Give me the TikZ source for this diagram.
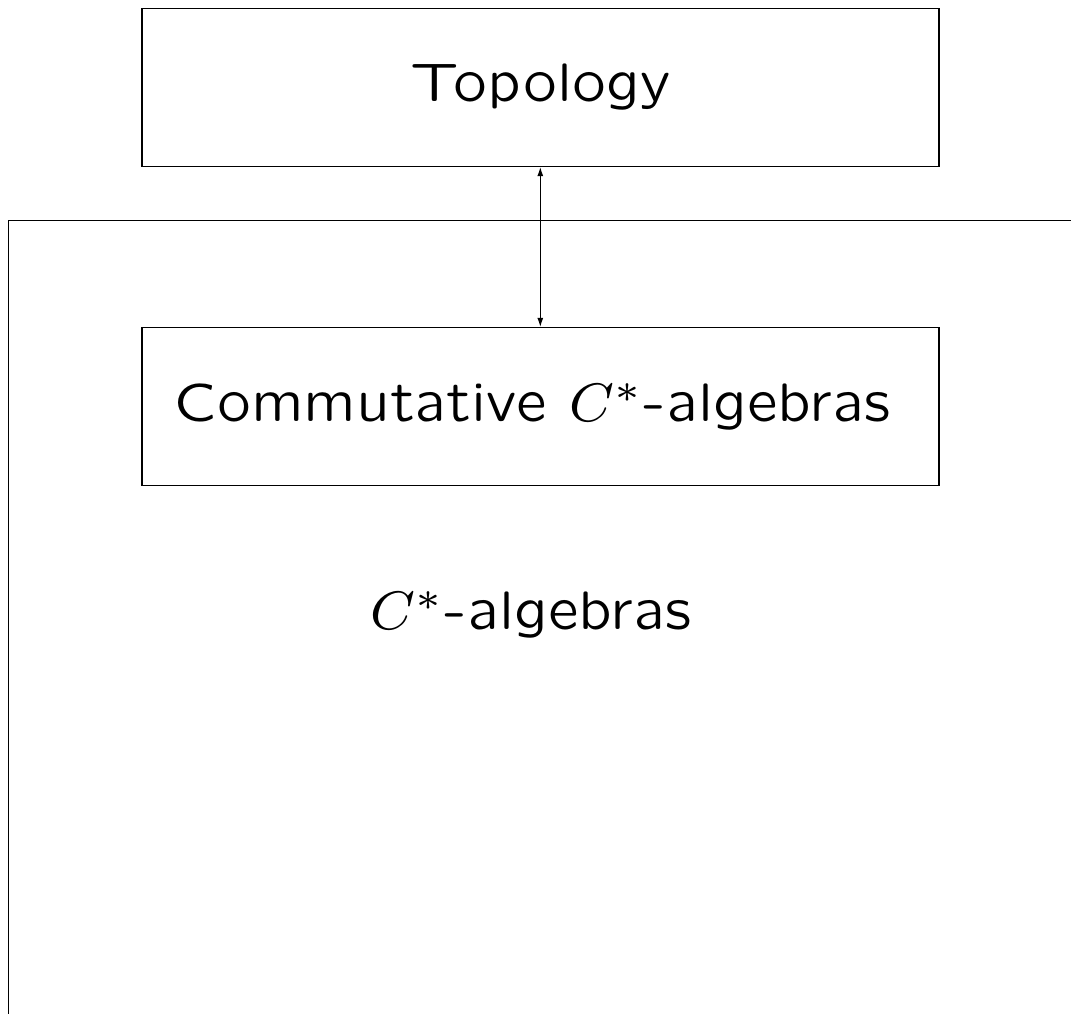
\documentclass[tikz,border=0pt]{standalone}
\usepackage{graphicx}
\usetikzlibrary{arrows.meta}
\newcommand{\bigtxt}[1]{\scalebox{6.78}{\fontsize{8}{9.6}\fontfamily{lmssq}\selectfont #1}}
\begin{document}
\begin{tikzpicture}[x=1pt,y=-1pt,
  box/.style={draw,line width=1.1pt,minimum width=797pt,minimum height=158pt,inner sep=0pt},
  lbl/.style={inner sep=0pt},
  link/.style={line width=1.1pt,{Latex[length=9pt,width=6pt]}-{Latex[length=9pt,width=6pt]}}]
\clip (0,0) rectangle (1071,1014);
\useasboundingbox (0,0) rectangle (1071,1014);
\draw[line width=1.3pt] (1200,220.7) -- (8.7,220.7) -- (8.7,1200);
\node[box] (top) at (540.5,87.5) {\bigtxt{Topology}};
\node[box] (com) at (540.5,406.5) {\bigtxt{Commutative $C^*$-algebras}\hspace*{17pt}};
\node[lbl] (cs) at (531,615) {\bigtxt{$C^*$-algebras}};
\draw[link] (top.south -| 540.3,0) -- (com.north -| 540.3,0);
\end{tikzpicture}
\end{document}
